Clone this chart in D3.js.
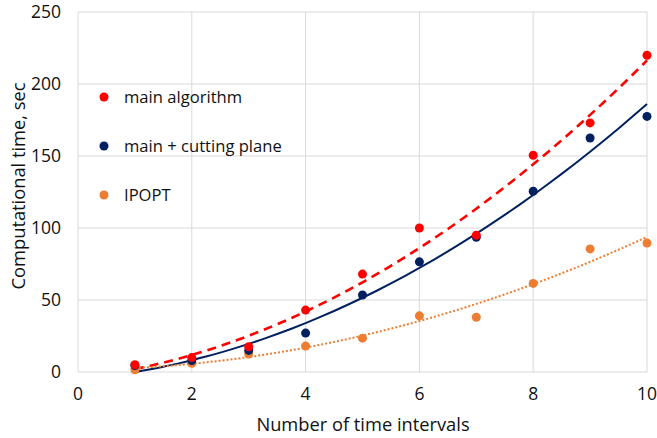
<!DOCTYPE html>
<html>
<head>
<meta charset="utf-8">
<script src="https://cdn.jsdelivr.net/npm/d3@7"></script>
<style>
  body { margin: 0; background: #fff; }
  svg { display: block; font-family: "Open Sans", "Noto Sans", sans-serif; }
</style>
</head>
<body>
<svg id="chart" width="657" height="438"></svg>
<script>
const intervals = [1, 2, 3, 4, 5, 6, 7, 8, 9, 10];
const mainAlgorithm = [5, 10, 17.5, 43, 68, 100, 95, 150.5, 173, 220];
const mainCutting = [4.5, 8, 15, 27, 53.5, 76.5, 93.5, 125.5, 162.5, 177.5];
const ipopt = [1.5, 6, 12.5, 18, 23.5, 39, 38, 61.5, 85.5, 89.5];
const xTicks = [0, 2, 4, 6, 8, 10];
const yTicks = [0, 50, 100, 150, 200, 250];

const seriesList = [
  { name: "main algorithm", values: mainAlgorithm, color: "#ff0000", dash: "9 6", width: 2.6 },
  { name: "main + cutting plane", values: mainCutting, color: "#002060", dash: null, width: 2 },
  { name: "IPOPT", values: ipopt, color: "#ed7d31", dash: "2 2", width: 2 }
];

const svg = d3.select("#chart");

const x = d3.scaleLinear().domain([0, 10]).range([78, 647]);
const y = d3.scaleLinear().domain([0, 250]).range([372, 12]);

// gridlines
svg.append("g").selectAll("line").data(yTicks).join("line")
  .attr("x1", x(0)).attr("x2", x(10)).attr("y1", d => y(d)).attr("y2", d => y(d))
  .attr("stroke", "#d9d9d9").attr("stroke-width", 1);
svg.append("g").selectAll("line").data(xTicks).join("line")
  .attr("y1", y(0)).attr("y2", y(250)).attr("x1", d => x(d)).attr("x2", d => x(d))
  .attr("stroke", "#d9d9d9").attr("stroke-width", 1);

// tick labels
svg.append("g").selectAll("text").data(yTicks).join("text")
  .attr("x", 61).attr("y", d => y(d)).attr("dy", "0.35em")
  .attr("text-anchor", "end").attr("font-size", 17.5).attr("fill", "#111")
  .text(d => d);
svg.append("g").selectAll("text").data(xTicks).join("text")
  .attr("x", d => x(d)).attr("y", 394).attr("dy", "0.35em")
  .attr("text-anchor", "middle").attr("font-size", 17.5).attr("fill", "#111")
  .text(d => d);

// axis titles
svg.append("text").attr("x", 363).attr("y", 425).attr("dy", "0.35em")
  .attr("text-anchor", "middle").attr("font-size", 18.3).attr("fill", "#111").text("Number of time intervals");
svg.append("text").attr("transform", "translate(19,186) rotate(-90)").attr("dy", "0.35em")
  .attr("text-anchor", "middle").attr("font-size", 18.3).attr("fill", "#111").text("Computational time, sec");

// quadratic least-squares trendline (as the spreadsheet trendline)
function quadFit(xs, ys) {
  let s = [0, 0, 0, 0, 0], t = [0, 0, 0];
  xs.forEach((xv, i) => {
    for (let k = 0; k < 5; k++) s[k] += Math.pow(xv, k);
    for (let k = 0; k < 3; k++) t[k] += Math.pow(xv, k) * ys[i];
  });
  const A = [[s[0], s[1], s[2], t[0]], [s[1], s[2], s[3], t[1]], [s[2], s[3], s[4], t[2]]];
  for (let i = 0; i < 3; i++) {
    for (let j = i + 1; j < 3; j++) {
      const f = A[j][i] / A[i][i];
      for (let k = i; k < 4; k++) A[j][k] -= f * A[i][k];
    }
  }
  const c = [0, 0, 0];
  for (let i = 2; i >= 0; i--) {
    let v = A[i][3];
    for (let k = i + 1; k < 3; k++) v -= A[i][k] * c[k];
    c[i] = v / A[i][i];
  }
  return xv => c[0] + c[1] * xv + c[2] * xv * xv;
}

const line = d3.line().x(d => x(d[0])).y(d => y(d[1])).curve(d3.curveMonotoneX);
const samples = d3.range(1, 10.001, 0.25);

seriesList.forEach(s => {
  const f = quadFit(intervals, s.values);
  svg.append("path").datum(samples.map(v => [v, f(v)]))
    .attr("d", line).attr("fill", "none")
    .attr("stroke", s.color).attr("stroke-width", s.width)
    .attr("stroke-dasharray", s.dash);
});

// points: IPOPT first so the main series sit on top
[seriesList[2], seriesList[1], seriesList[0]].forEach(s => {
  svg.append("g").selectAll("circle").data(intervals).join("circle")
    .attr("cx", d => x(d)).attr("cy", (d, i) => y(s.values[i]))
    .attr("r", 4.5).attr("fill", s.color);
});

// legend
const legend = svg.append("g");
seriesList.forEach((s, i) => {
  const ly = 97 + i * 49;
  legend.append("circle").attr("cx", 104).attr("cy", ly).attr("r", 4.5).attr("fill", s.color);
  legend.append("text").attr("x", 124).attr("y", ly).attr("dy", "0.35em")
    .attr("font-size", 16.6).attr("fill", "#111").text(s.name);
});
</script>
</body>
</html>
